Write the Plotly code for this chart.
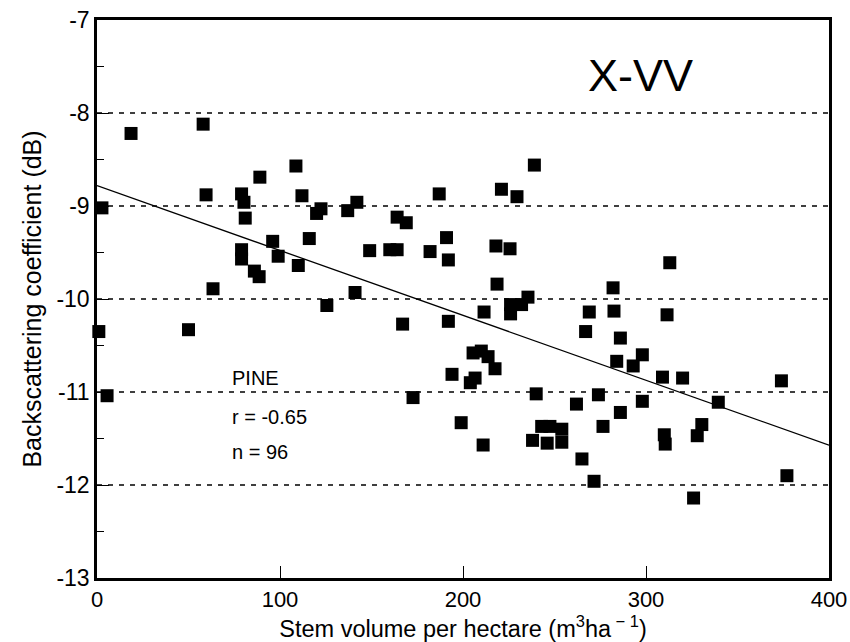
import plotly.graph_objects as go

# Stem volume (m3/ha) and backscatter (dB)
stem_volume = [1, 2.7, 5.5, 18.6, 50, 58, 59.6, 63.4, 79, 80.3,
               81, 79, 79, 86, 88.6, 89, 96, 99, 108.7, 112,
               110, 116, 120, 122.4, 125.6, 137, 142, 141, 149, 160,
               164, 164, 169, 167, 172.7, 182, 187, 191, 192, 192,
               194, 199, 204, 205.5, 206.6, 210, 211, 211.5, 213.7, 217.5,
               218.6, 226, 232, 226, 235.5, 238, 240, 243, 247.5, 246,
               254, 254, 262, 265, 267, 269, 271.6, 274, 276.5, 282,
               282.5, 284, 286, 286, 293, 298, 298, 309, 310, 310.5,
               311.5, 313, 320, 326, 328, 330.5, 339.5, 374, 377,
               239, 221, 229.5, 218, 225.7]
backscatter = [-10.35, -9.02, -11.04, -8.22, -10.33, -8.12, -8.88, -9.89, -8.87, -8.96,
               -9.13, -9.47, -9.57, -9.70, -9.76, -8.69, -9.38, -9.54, -8.57, -8.89,
               -9.64, -9.35, -9.08, -9.03, -10.07, -9.05, -8.96, -9.93, -9.48, -9.47,
               -9.47, -9.12, -9.18, -10.27, -11.06, -9.49, -8.87, -9.34, -9.58, -10.24,
               -10.81, -11.33, -10.90, -10.58, -10.85, -10.56, -11.57, -10.14, -10.62, -10.75,
               -9.84, -10.06, -10.06, -10.16, -9.98, -11.52, -11.02, -11.37, -11.37, -11.55,
               -11.40, -11.54, -11.13, -11.72, -10.35, -10.14, -11.96, -11.03, -11.37, -9.88,
               -10.13, -10.67, -10.42, -11.22, -10.72, -10.60, -11.10, -10.84, -11.46, -11.56,
               -10.17, -9.61, -10.85, -12.14, -11.47, -11.35, -11.11, -10.88, -11.90,
               -8.56, -8.82, -8.90, -9.43, -9.46]

# Regression line
fit_intercept = -8.78
fit_slope = -0.00698
fit_x = [0, 400]

x_ticks = [0, 100, 200, 300, 400]
y_ticks = [-13, -12, -11, -10, -9, -8, -7]
grid_levels = [-12, -11, -10, -9, -8]

FONT = "Liberation Sans, Arial, Helvetica, sans-serif"

fig = go.Figure()

fit_y = [fit_intercept + fit_slope * v for v in fit_x]
fig.add_trace(go.Scatter(x=fit_x, y=fit_y, mode="lines",
                         line=dict(color="black", width=1.3),
                         showlegend=False, hoverinfo="skip"))

fig.add_trace(go.Scatter(x=stem_volume, y=backscatter, mode="markers",
                         marker=dict(symbol="square", size=13, color="black",
                                     line=dict(width=0)),
                         showlegend=False, cliponaxis=False))

for g in grid_levels:
    fig.add_shape(type="line", xref="x", yref="y", x0=0, x1=400, y0=g, y1=g,
                  line=dict(color="black", width=1.3, dash="5px,6px"), layer="below")

fig.add_annotation(x=297, y=-7.6, xref="x", yref="y", text="X-VV", showarrow=False,
                   font=dict(family=FONT, size=45, color="black"))
fig.add_annotation(x=72.5, y=-10.85, xref="x", yref="y", text="PINE", showarrow=False,
                   xanchor="left", font=dict(family=FONT, size=20, color="black"))
fig.add_annotation(x=72.5, y=-11.27, xref="x", yref="y", text="r = -0.65", showarrow=False,
                   xanchor="left", font=dict(family=FONT, size=20, color="black"))
fig.add_annotation(x=72.5, y=-11.64, xref="x", yref="y", text="n = 96", showarrow=False,
                   xanchor="left", font=dict(family=FONT, size=20, color="black"))

fig.update_layout(
    width=850, height=642,
    margin=dict(l=97, r=21, t=20, b=64),
    paper_bgcolor="white", plot_bgcolor="white",
    font=dict(family=FONT, size=22, color="black"),
)
fig.update_xaxes(range=[0, 400], tickvals=x_ticks, ticktext=[str(v) for v in x_ticks],
                 showgrid=False, zeroline=False, showline=True, linecolor="black",
                 linewidth=2.5, mirror=True, ticks="inside", ticklen=12, tickwidth=1,
                 tickcolor="black", tickfont=dict(size=22), automargin=False,
                 title=dict(text="Stem volume per hectare (m<sup>3</sup>ha<sup> \u2212 1</sup>)",
                            font=dict(size=23.5), standoff=3))
fig.update_yaxes(range=[-13, -7], tickvals=y_ticks, ticktext=[str(v) for v in y_ticks],
                 showgrid=False, zeroline=False, showline=True, linecolor="black",
                 linewidth=2.5, mirror=True, ticks="inside", ticklen=12, tickwidth=1,
                 tickcolor="black", tickfont=dict(size=23), automargin=False,
                 minor=dict(dtick=0.5, ticks="inside", ticklen=7, tickcolor="black", tickwidth=1),
                 title=dict(text="Backscattering coefficient (dB)", font=dict(size=25), standoff=8))

fig.write_html("out.html")
